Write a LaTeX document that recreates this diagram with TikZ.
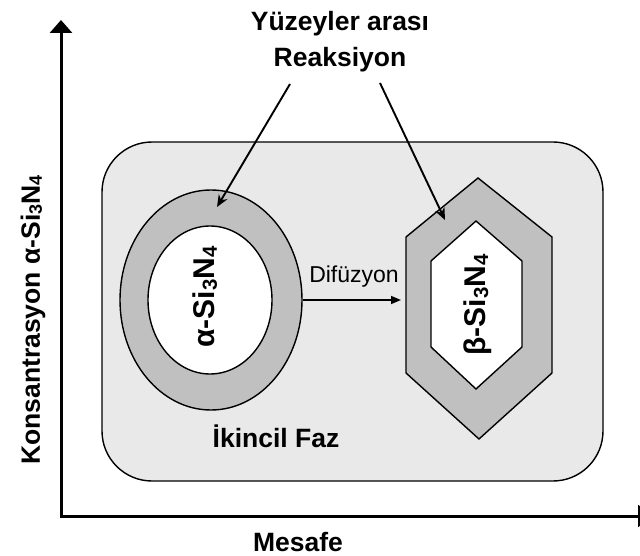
\documentclass[tikz,border=0pt]{standalone}
\usepackage{fontspec}
\setmainfont{Liberation Sans}
\usetikzlibrary{arrows.meta,shapes.geometric}
\definecolor{phasegray}{HTML}{E9E9E9}
\definecolor{ringgray}{HTML}{C0C0C0}
% small, slightly lowered index digits
\newcommand\idx[1]{\raisebox{-0.08em}{\scalebox{0.68}{#1}}}
\begin{document}
\begin{tikzpicture}[x=1pt,y=-1pt,
  lbl/.style={font=\fontsize{26.5}{32}\selectfont\bfseries, inner sep=0pt},
  grainlbl/.style={font=\fontsize{30}{36}\selectfont\bfseries, inner sep=0pt},
  plainlbl/.style={font=\fontsize{23}{28}\selectfont, inner sep=0pt},
  axisline/.style={line width=3pt,
    {Triangle[length=13pt,width=22pt]}-{Triangle[length=13pt,width=22pt]}},
  pointer/.style={line width=1.9pt, -{Stealth[length=12pt,width=10pt]}},
  flow/.style={line width=1.6pt, -{Triangle[length=10pt,width=8pt]}},
  outline/.style={draw=black, line width=1.4pt}]
\useasboundingbox (0,0) rectangle (640,556);

% axes
\coordinate (yTip) at (61,20);
\coordinate (O) at (61,516);
\coordinate (xTip) at (651,516);
\draw[axisline] (yTip) -- (O) -- (xTip);

% secondary phase region
\node[outline, fill=phasegray, rounded corners=50pt, minimum width=501pt,
  minimum height=339pt, inner sep=0pt] (phase) at (352.5,311.5) {};

% alpha grain with reaction layer
\node[outline, ellipse, fill=ringgray, minimum width=182pt, minimum height=220pt,
  inner sep=0pt] (ring) at (211,300) {};
\node[outline, ellipse, fill=white, minimum width=124pt, minimum height=148pt,
  inner sep=0pt] (core) at (210,300) {};
\node[grainlbl, rotate=90] (alphaLbl) at (205,297) {α-Si\idx{3}N\idx{4}};

% beta grain with reaction layer
\draw[outline, fill=ringgray] (478,178) -- (552,237) -- (552,373) -- (479,439)
  -- (406,373) -- (406,237) -- cycle;
\draw[outline, fill=white] (476,221) -- (522,261) -- (522,347) -- (476,389)
  -- (431,347) -- (431,261) -- cycle;
\node[grainlbl, rotate=90] (betaLbl) at (478,305) {β-Si\idx{3}N\idx{4}};

% diffusion
\coordinate (hexW) at (401,300);
\draw[flow] (ring.east) -- (hexW);
\node[plainlbl, anchor=base] (dif) at (354,282) {Difüzyon};

% interface reaction labels
\node[lbl, anchor=base] (top1) at (340,31) {Yüzeyler arası};
\node[lbl, anchor=base] (top2) at (340,67) {Reaksiyon};
\coordinate (pA) at (290,84);
\coordinate (pAend) at (217,207);
\coordinate (pB) at (380,83);
\coordinate (pBend) at (445,220);
\draw[pointer] (pA) -- (pAend);
\draw[pointer] (pB) -- (pBend);

% remaining labels
\node[lbl, anchor=base] (faz) at (276,447) {İkincil Faz};
\node[lbl, anchor=base] (xlbl) at (298,551) {Mesafe};
\node[lbl, rotate=90] (ylbl) at (33,320) {Konsantrasyon α-Si\idx{3}N\idx{4}};
\end{tikzpicture}
\end{document}
